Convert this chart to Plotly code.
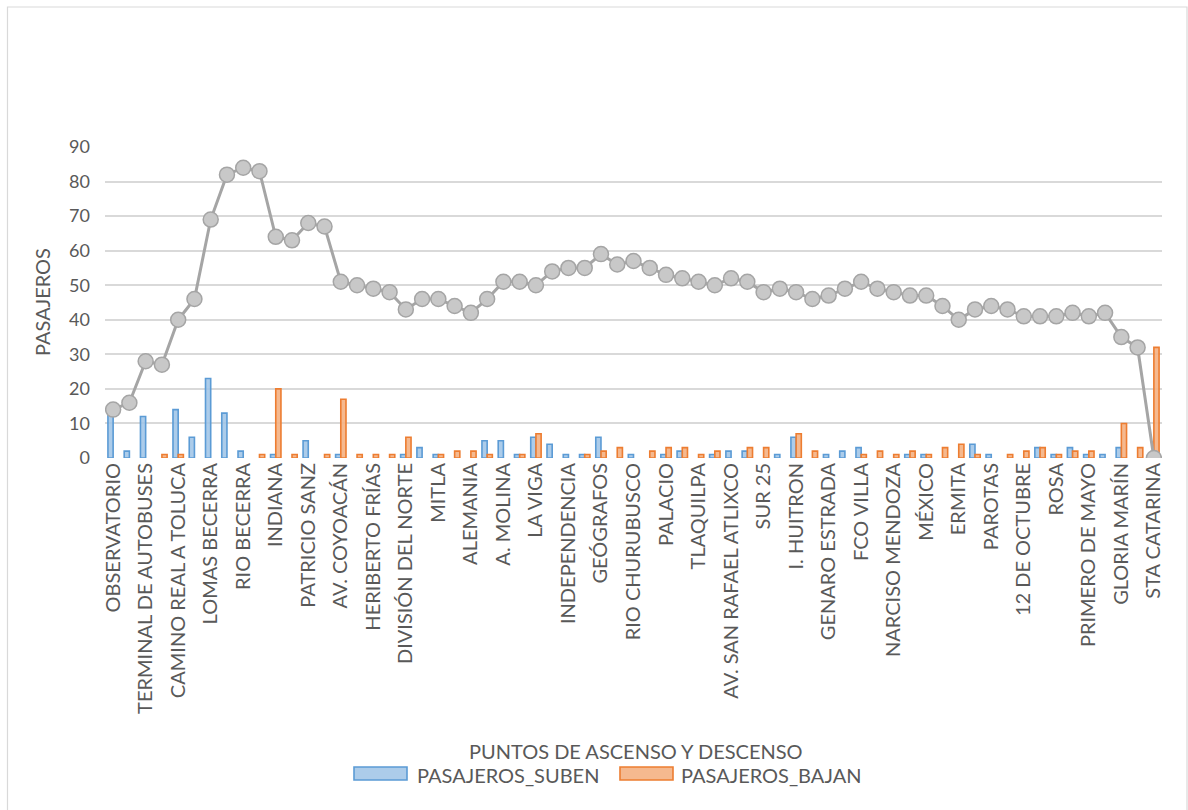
import plotly.graph_objects as go

# Stops shown on the axis (every other stop along the route)
stop_labels = [
    "OBSERVATORIO", "TERMINAL DE AUTOBUSES", "CAMINO REAL A TOLUCA", "LOMAS BECERRA",
    "RIO BECERRA", "INDIANA", "PATRICIO SANZ", "AV. COYOACÁN", "HERIBERTO FRÍAS",
    "DIVISIÓN DEL NORTE", "MITLA", "ALEMANIA", "A. MOLINA", "LA VIGA", "INDEPENDENCIA",
    "GEÓGRAFOS", "RIO CHURUBUSCO", "PALACIO", "TLAQUILPA", "AV. SAN RAFAEL ATLIXCO",
    "SUR 25", "I. HUITRON", "GENARO ESTRADA", "FCO VILLA", "NARCISO MENDOZA", "MÉXICO",
    "ERMITA", "PAROTAS", "12 DE OCTUBRE", "ROSA", "PRIMERO DE MAYO", "GLORIA MARÍN",
    "STA CATARINA",
]

# Passengers boarding at each of the 65 stops
suben = [14, 2, 12, 0, 14, 6, 23, 13, 2, 0, 1, 0, 5, 0, 1, 0, 0, 0, 1, 3,
         1, 0, 0, 5, 5, 1, 6, 4, 1, 1, 6, 0, 1, 0, 1, 2, 0, 1, 2, 2,
         0, 1, 6, 0, 1, 2, 3, 0, 0, 1, 1, 0, 0, 4, 1, 0, 0, 3, 1, 3,
         1, 1, 3, 0, 0]

# Passengers alighting at each stop
bajan = [0, 0, 0, 1, 1, 0, 0, 0, 0, 1, 20, 1, 0, 1, 17, 1, 1, 1, 6, 0,
         1, 2, 2, 1, 0, 1, 7, 0, 0, 1, 2, 3, 0, 2, 3, 3, 1, 2, 0, 3,
         3, 0, 7, 2, 0, 0, 1, 2, 1, 2, 1, 3, 4, 1, 0, 1, 2, 3, 1, 2,
         2, 0, 10, 3, 32]

# Passengers on board after each stop
a_bordo = [14, 16, 28, 27, 40, 46, 69, 82, 84, 83, 64, 63, 68, 67, 51, 50, 49, 48, 43, 46,
           46, 44, 42, 46, 51, 51, 50, 54, 55, 55, 59, 56, 57, 55, 53, 52, 51, 50, 52, 51,
           48, 49, 48, 46, 47, 49, 51, 49, 48, 47, 47, 44, 40, 43, 44, 43, 41, 41, 41, 42,
           41, 42, 35, 32, 0]

y_ticks = [0, 10, 20, 30, 40, 50, 60, 70, 80, 90]

series_names = ["PASAJEROS_SUBEN", "PASAJEROS_BAJAN"]

stops = list(range(len(a_bordo)))
label_pos = stops[::2]

TXT = "#595959"
FONT = "Lato, 'Liberation Sans', sans-serif"
BLUE_FILL, BLUE_LINE = "rgba(157,195,230,0.85)", "#5B9BD5"
ORANGE_FILL, ORANGE_LINE = "rgba(244,177,131,0.9)", "#ED7D31"


def nz(vals):
    return [v if v else None for v in vals]


fig = go.Figure()

fig.add_trace(go.Bar(
    x=stops, y=nz(suben), name=series_names[0], showlegend=False,
    marker=dict(color=BLUE_FILL, line=dict(color=BLUE_LINE, width=1.6)),
))
fig.add_trace(go.Bar(
    x=stops, y=nz(bajan), name=series_names[1], showlegend=False,
    marker=dict(color=ORANGE_FILL, line=dict(color=ORANGE_LINE, width=1.6)),
))
fig.add_trace(go.Scatter(
    x=stops, y=a_bordo, mode="lines+markers", showlegend=False,
    line=dict(color="#A5A5A5", width=3),
    marker=dict(size=15, color="#C8C8C8", line=dict(color="#A5A5A5", width=1.5)),
))

W, H = 1188, 810
L, R, T, B = 105, 26, 147, 352
pw, ph = W - L - R, H - T - B


def px(x):
    return (x - L) / pw


def py(y):
    return (H - B - y) / ph


# Legend drawn as wide swatches with labels beneath the axis title
legend_items = [
    (series_names[0], BLUE_FILL, BLUE_LINE, 354, 407, 415),
    (series_names[1], ORANGE_FILL, ORANGE_LINE, 620, 673, 679),
]
legend_shapes, legend_notes = [], []
for name, fill, edge, sx0, sx1, tx in legend_items:
    legend_shapes.append(dict(
        type="rect", xref="paper", yref="paper",
        x0=px(sx0), x1=px(sx1), y0=py(780), y1=py(767),
        line=dict(color=edge, width=1.6), fillcolor=fill,
    ))
    legend_notes.append(dict(
        text=name, xref="paper", yref="paper", x=px(tx), y=py(775),
        xanchor="left", yanchor="middle", showarrow=False,
        font=dict(size=20, color=TXT),
    ))

fig.update_layout(
    width=W, height=H,
    margin=dict(l=L, r=R, t=T, b=B),
    paper_bgcolor="white", plot_bgcolor="white",
    barmode="group", bargap=0.36, bargroupgap=0.0,
    font=dict(family=FONT, color=TXT, size=18),
    showlegend=False,
    xaxis=dict(
        range=[-0.5, len(stops) - 0.5],
        tickmode="array", tickvals=label_pos, ticktext=stop_labels,
        tickangle=-90, tickfont=dict(size=20, color=TXT),
        showgrid=False, zeroline=False, showline=False, ticks="",
    ),
    yaxis=dict(
        range=[0, 90], tickmode="array", tickvals=y_ticks,
        tickfont=dict(size=18, color=TXT), ticklabelstandoff=14,
        showgrid=True, gridcolor="#D9D9D9", gridwidth=1.5,
        zeroline=False, showline=False, ticks="",
    ),
    shapes=[dict(
        type="rect", xref="paper", yref="paper",
        x0=px(7.5), x1=px(1187), y0=py(812), y1=py(7),
        line=dict(color="#D9D9D9", width=1.2), fillcolor="rgba(0,0,0,0)", layer="below",
    )] + legend_shapes,
    annotations=[
        dict(text="PASAJEROS", xref="paper", yref="paper", x=px(42), y=py(302),
             textangle=-90, showarrow=False, font=dict(size=20, color=TXT),
             xanchor="center", yanchor="middle"),
        dict(text="PUNTOS DE ASCENSO Y DESCENSO", xref="paper", yref="paper",
             x=px(636), y=py(751), showarrow=False, font=dict(size=20, color=TXT),
             xanchor="center", yanchor="middle"),
    ] + legend_notes,
)

fig.write_html("out.html")
